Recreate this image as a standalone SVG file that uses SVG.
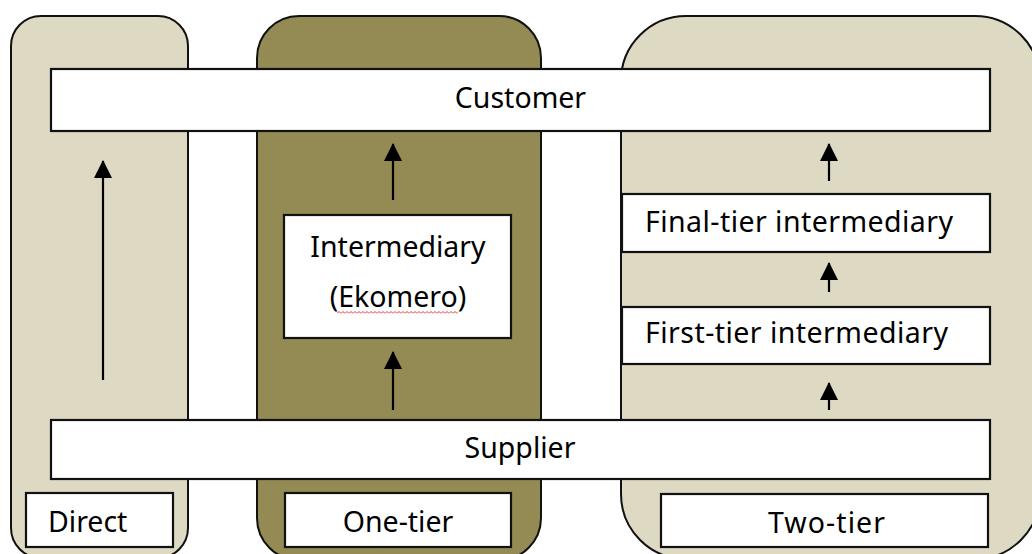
<svg xmlns="http://www.w3.org/2000/svg" width="1032" height="554" viewBox="0 0 1032 554">
  <style>
    .panel { stroke: #111; stroke-width: 2; }
    .light { fill: #DDD9C3; }
    .olive { fill: #948A54; }
    .box { fill: #fff; stroke: #111; stroke-width: 2.2; }
    .lbl { font-family: "Noto Sans", "Liberation Sans", sans-serif; font-size: 28.5px; fill: #000; }
    .mid { text-anchor: middle; }
    .flow { stroke: #000; stroke-width: 2.2; fill: none; marker-end: url(#head); }
  </style>
  <defs>
    <marker id="head" markerUnits="userSpaceOnUse" markerWidth="18" markerHeight="18" viewBox="0 0 18 18" refX="17" refY="9" orient="auto">
      <path d="M0,0 L18,9 L0,18 Z" fill="#000"/>
    </marker>
    <pattern id="squiggle" patternUnits="userSpaceOnUse" x="337" y="311" width="4" height="3">
      <polyline points="0,2.5 2,0.5 4,2.5" fill="none" stroke="#e02020" stroke-width="0.9"/>
    </pattern>
  </defs>

  <!-- channel panels -->
  <g id="panel-direct">
    <rect class="panel light" x="11" y="16" width="177" height="542" rx="30" ry="30"/>
  </g>
  <g id="panel-one-tier">
    <rect class="panel olive" x="257" y="16" width="284" height="544" rx="42" ry="42"/>
  </g>
  <g id="panel-two-tier">
    <rect class="panel light" x="621" y="16" width="419" height="543" rx="65" ry="65"/>
  </g>

  <!-- shared end points -->
  <g id="customer">
    <rect class="box" x="51" y="69" width="939" height="62"/>
    <text class="lbl mid" x="520.5" y="108">Customer</text>
  </g>
  <g id="supplier">
    <rect class="box" x="51" y="420" width="939" height="59"/>
    <text class="lbl mid" x="520" y="457.5">Supplier</text>
  </g>

  <!-- intermediaries -->
  <g id="intermediary">
    <rect class="box" x="284" y="215" width="227" height="123"/>
    <text class="lbl mid" x="398" y="257">Intermediary</text>
    <text class="lbl mid" x="398" y="307">(Ekomero)</text>
    <rect x="337" y="311" width="121" height="3" fill="url(#squiggle)"/>
  </g>
  <g id="final-tier">
    <rect class="box" x="622" y="194" width="368" height="58"/>
    <text class="lbl" x="645" y="232" textLength="308">Final-tier intermediary</text>
  </g>
  <g id="first-tier">
    <rect class="box" x="622" y="307" width="368" height="57"/>
    <text class="lbl" x="645" y="343" textLength="303">First-tier intermediary</text>
  </g>

  <!-- channel labels -->
  <g id="label-direct">
    <rect class="box" x="26" y="493" width="147" height="54"/>
    <text class="lbl" x="48" y="532">Direct</text>
  </g>
  <g id="label-one-tier">
    <rect class="box" x="285" y="493" width="226" height="54"/>
    <text class="lbl mid" x="398" y="532">One-tier</text>
  </g>
  <g id="label-two-tier">
    <rect class="box" x="661" y="494" width="327" height="53"/>
    <text class="lbl mid" x="826.5" y="533" textLength="117">Two-tier</text>
  </g>

  <!-- flow arrows -->
  <g id="connectors">
    <line class="flow" x1="103" y1="380" x2="103" y2="161"/>
    <line class="flow" x1="393" y1="200" x2="393" y2="144"/>
    <line class="flow" x1="393" y1="410" x2="393" y2="352"/>
    <line class="flow" x1="829" y1="181" x2="829" y2="144"/>
    <line class="flow" x1="829" y1="292" x2="829" y2="263"/>
    <line class="flow" x1="829" y1="410" x2="829" y2="383"/>
  </g>
</svg>
